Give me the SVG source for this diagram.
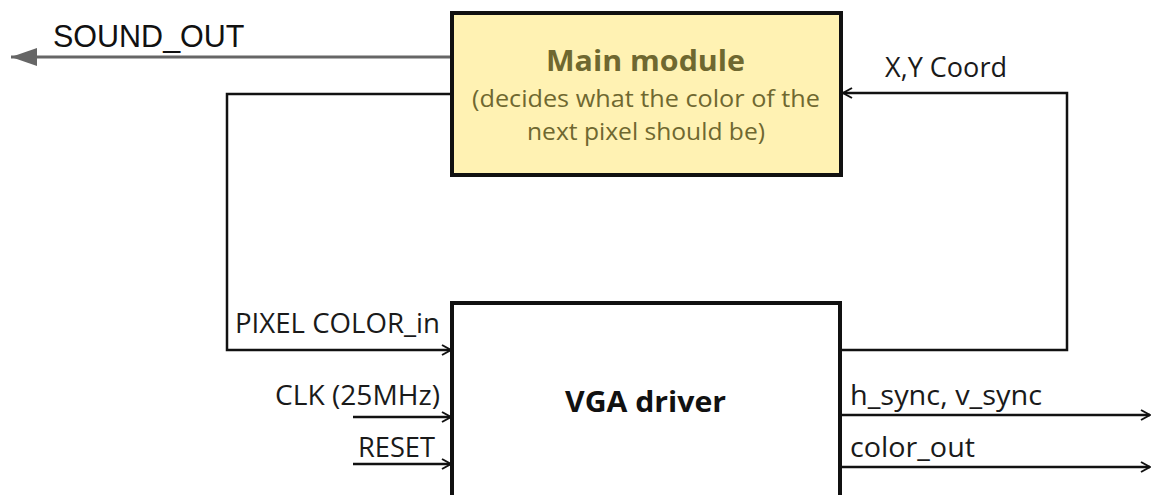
<svg xmlns="http://www.w3.org/2000/svg" width="1151" height="495" viewBox="0 0 1151 495">
<style>
.lbl{font-family:"Open Sans","Noto Sans",sans-serif;font-size:27px;fill:#1a1a1a}
.box{stroke:#111;stroke-width:4}
.wire{fill:none;stroke:#111;stroke-width:2.5}
.mm{font-family:"Open Sans","Noto Sans",sans-serif;fill:#6f6830}
</style>
<defs>
<marker id="chev" markerWidth="12" markerHeight="12" refX="10" refY="6" orient="auto" markerUnits="userSpaceOnUse">
<path d="M1,1 L10,6 L1,11" fill="none" stroke="#111" stroke-width="2"/>
</marker>
<marker id="tri" markerWidth="28" markerHeight="22" refX="26" refY="11" orient="auto" markerUnits="userSpaceOnUse">
<path d="M0,2 L26,11 L0,20 Z" fill="#666"/>
</marker>
</defs>
<rect width="1151" height="495" fill="#fff"/>
<g id="connectors">
<line x1="450" y1="57" x2="11" y2="57" stroke="#666" stroke-width="3" marker-end="url(#tri)"/>
<polyline class="wire" points="451,94 227,94 227,350 451,350" marker-end="url(#chev)"/>
<polyline class="wire" points="842,350 1067,350 1067,93 843,93" marker-end="url(#chev)"/>
<line class="wire" x1="353" y1="417" x2="451" y2="417" marker-end="url(#chev)"/>
<line class="wire" x1="353" y1="464" x2="451" y2="464" marker-end="url(#chev)"/>
<line class="wire" x1="842" y1="415" x2="1150" y2="415" marker-end="url(#chev)"/>
<line class="wire" x1="842" y1="467" x2="1150" y2="467" marker-end="url(#chev)"/>
<text x="53" y="47" font-family="Liberation Sans,Arial,sans-serif" font-size="30.5" fill="#111">SOUND_OUT</text>
<text class="lbl" x="885" y="77" textLength="122" lengthAdjust="spacingAndGlyphs">X,Y Coord</text>
<text class="lbl" x="235" y="333" textLength="205" lengthAdjust="spacingAndGlyphs">PIXEL COLOR_in</text>
<text class="lbl" x="275" y="405" textLength="165" lengthAdjust="spacingAndGlyphs">CLK (25MHz)</text>
<text class="lbl" x="358" y="457" textLength="77" lengthAdjust="spacingAndGlyphs">RESET</text>
<text class="lbl" x="850" y="405" textLength="192" lengthAdjust="spacingAndGlyphs">h_sync, v_sync</text>
<text class="lbl" x="850" y="457" textLength="125" lengthAdjust="spacingAndGlyphs">color_out</text>
</g>
<g id="main-module">
<rect class="box" x="452" y="13" width="389" height="162" fill="#fff2b3"/>
<text class="mm" x="546" y="71" font-weight="bold" font-size="29" fill="#67602a" textLength="199" lengthAdjust="spacingAndGlyphs">Main module</text>
<text class="mm" x="472" y="107" font-size="24" textLength="348" lengthAdjust="spacingAndGlyphs">(decides what the color of the</text>
<text class="mm" x="527" y="140" font-size="24" textLength="238" lengthAdjust="spacingAndGlyphs">next pixel should be)</text>
</g>
<g id="vga-driver">
<rect class="box" x="452" y="303" width="388" height="200" fill="#fff"/>
<text x="565" y="412" font-family="Open Sans,sans-serif" font-weight="bold" font-size="29" fill="#111" textLength="161" lengthAdjust="spacingAndGlyphs">VGA driver</text>
</g>
</svg>
